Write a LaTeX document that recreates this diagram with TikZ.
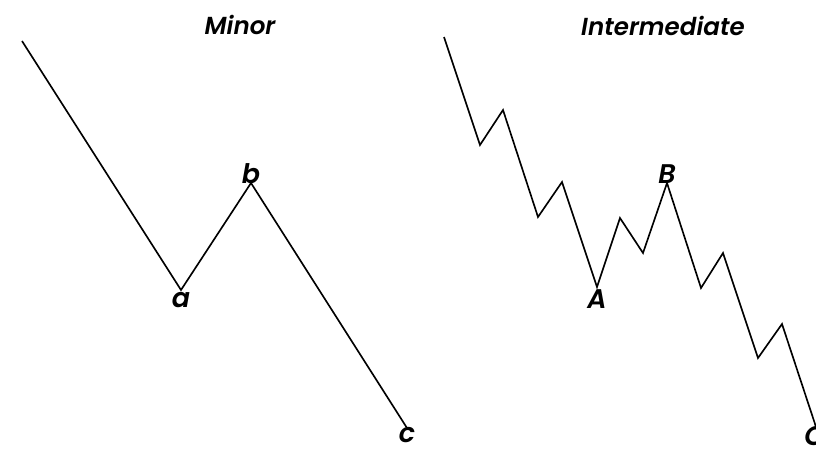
\documentclass[tikz,border=0pt]{standalone}
\usepackage{fontspec}
\setmainfont{Poppins}[ItalicFont={Poppins SemiBold Italic}]
\usepackage{tikz}
\usetikzlibrary{positioning}
\tikzset{
  wave/.style={draw=black, line width=1.4pt, line join=miter},
  ttl/.style={font=\fontsize{21}{24}\selectfont\itshape, inner sep=0pt},
  lbl/.style={font=\fontsize{23}{27}\selectfont\itshape, inner sep=1pt}
}

\begin{document}
\begin{tikzpicture}[x=0.03cm, y=-0.03cm]
\useasboundingbox (0,0) rectangle (816,453);
% minor degree
\coordinate (m0) at (22,41);
\coordinate (ma) at (181,290);
\coordinate (mb) at (251,183);
\coordinate (mc) at (407,428);
\draw[wave] (m0) -- (ma) -- (mb) -- (mc);
\node[ttl] (tminor) at (240,25) {Minor};
\node[lbl, below=1pt of ma] (la) {a};
\node[lbl, above=-2pt of mb] (lb) {b};
\node[lbl, below=-2pt of mc] (lc) {c};
% intermediate degree
\coordinate (i0) at (444,37);
\coordinate (i1) at (480,145);
\coordinate (i2) at (503,110);
\coordinate (i3) at (538,217);
\coordinate (i4) at (562,182);
\coordinate (iA) at (597,287);
\coordinate (i6) at (620,218);
\coordinate (i7) at (643,253);
\coordinate (iB) at (667,183);
\coordinate (i9) at (701,288);
\coordinate (i10) at (723,253);
\coordinate (i11) at (758,358);
\coordinate (i12) at (782,324);
\coordinate (iC) at (817,430);
\draw[wave] (i0) -- (i1) -- (i2) -- (i3) -- (i4) -- (iA) -- (i6) -- (i7)
  -- (iB) -- (i9) -- (i10) -- (i11) -- (i12) -- (iC);
\node[ttl] (tinter) at (663,26) {Intermediate};
\node[lbl, below=1pt of iA] (lA) {A};
\node[lbl, above=-2pt of iB] (lB) {B};
\node[lbl, below=-4pt of iC, xshift=-2pt] (lC) {C};
\end{tikzpicture}
\end{document}
